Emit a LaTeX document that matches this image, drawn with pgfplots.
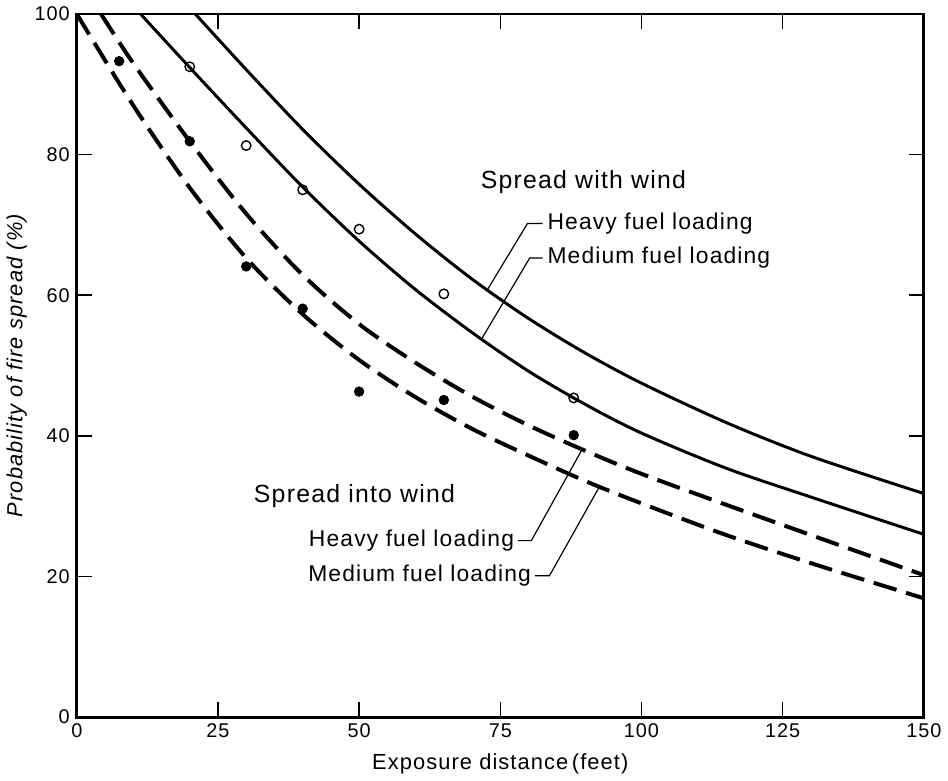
\documentclass[border=0pt]{standalone}
\usepackage{fontspec}
\setmainfont{Liberation Sans}[LetterSpace=5]
\usepackage{pgfplots}
\pgfplotsset{compat=1.18}

\begin{document}
\begin{tikzpicture}
\begin{axis}[
  scale only axis, width=426.5pt, height=354pt,
  xmin=0, xmax=150, ymin=0, ymax=100,
  xtick={0,25,...,150}, ytick={0,20,...,100},
  tick align=inside, major tick length=7.5pt,
  tick style={line width=0.8pt, black},
  axis line style={line width=1.4pt},
  /pgf/number format/assume math mode=true,
  tick label style={font=\fontsize{10}{12}\selectfont},
  xlabel={Exposure distance\,(feet)},
  ylabel={\itshape Probability of fire spread (\%)},
  label style={font=\fontsize{11}{13}\selectfont},
  xlabel style={yshift=-1pt},
  ylabel style={yshift=-3pt},
  clip=false,
]
% heavy fuel loading, with wind
\addplot[black, line width=1.5pt, smooth] coordinates {
  (21,100) (30,92.1) (40,83.6) (50,75.8) (60,68.7) (70,62.3) (80,56.7)
  (90,51.8) (100,47.5) (115,41.9) (130,37.1) (150,31.8)};
% medium fuel loading, with wind
\addplot[black, line width=1.5pt, smooth] coordinates {
  (11.3,100) (20,92.4) (30,83.8) (40,75.4) (50,67.7) (60,60.8) (70,54.7)
  (80,49.2) (90,44.5) (100,40.4) (115,35.4) (130,31.3) (150,26.0)};
% heavy fuel loading, into wind
\addplot[black, line width=2pt, dash pattern=on 12pt off 5pt, smooth] coordinates {
  (4.3,100) (10,93.0) (20,81.9) (30,71.6) (40,62.9) (50,55.9) (60,50.4)
  (70,45.6) (80,41.5) (90,37.9) (100,34.6) (115,30.2) (130,25.9) (150,20.2)};
% medium fuel loading, into wind
\addplot[black, line width=2pt, dash pattern=on 12pt off 5pt, smooth] coordinates {
  (0,100) (10,87.0) (20,75.3) (30,65.3) (40,57.3) (50,50.8) (60,45.5)
  (70,41.0) (80,37.2) (90,33.6) (100,30.4) (115,25.9) (130,21.9) (150,16.9)};
% observations
\addplot[only marks, mark=o, mark size=2.4pt, mark options={fill=white, line width=0.7pt}] coordinates {
  (20,92.5) (30,81.3) (40,75) (50,69.4) (65,60.2) (88,45.4)};
\addplot[only marks, mark=*, mark size=2.4pt] coordinates {
  (7.5,93.3) (20,81.9) (30,64.1) (40,58.1) (50,46.3) (65,45.1) (88,40.1)};

% labels and leaders
\node[anchor=west, font=\fontsize{12.5}{14}\selectfont] at (axis cs:70.3,76.1) {Spread with wind};
\draw[line width=0.6pt] (axis cs:72.8,60.9) -- (axis cs:79.8,70.2) -- (axis cs:82.5,70.2);
\node[anchor=west, font=\fontsize{11.5}{13}\selectfont, inner sep=0pt] at (axis cs:83.3,70.2) {Heavy fuel loading};
\draw[line width=0.6pt] (axis cs:71.7,53.8) -- (axis cs:80.2,65.3) -- (axis cs:82.5,65.3);
\node[anchor=west, font=\fontsize{11.5}{13}\selectfont, inner sep=0pt] at (axis cs:83.3,65.3) {Medium fuel loading};

\node[anchor=west, font=\fontsize{12.5}{14}\selectfont, inner sep=0pt] at (axis cs:31.3,31.4) {Spread into wind};
\draw[line width=0.6pt] (axis cs:89.5,38.1) -- (axis cs:80.5,25.1) -- (axis cs:78.1,25.1);
\node[anchor=east, font=\fontsize{11.5}{13}\selectfont, inner sep=0pt] at (axis cs:77.5,25.1) {Heavy fuel loading};
\draw[line width=0.6pt] (axis cs:92.5,32.7) -- (axis cs:83.7,20.1) -- (axis cs:81.1,20.1);
\node[anchor=east, font=\fontsize{11.5}{13}\selectfont, inner sep=0pt] at (axis cs:80.5,20.1) {Medium fuel loading};

\path (axis cs:-13,102) rectangle (axis cs:153.7,-8.47);
\end{axis}
\end{tikzpicture}
\end{document}
